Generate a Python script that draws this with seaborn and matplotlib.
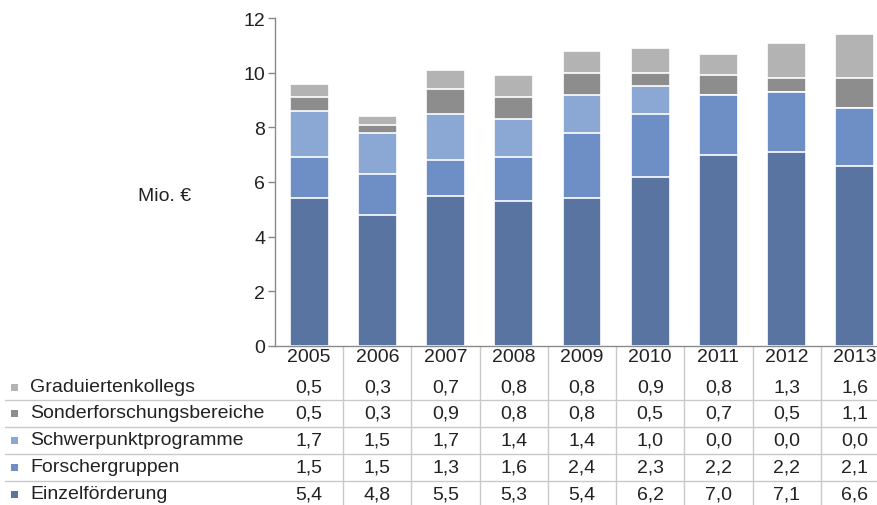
import matplotlib
matplotlib.use("Agg")
import matplotlib.pyplot as plt
import matplotlib.transforms as mtransforms
import seaborn as sns
import pandas as pd
import numpy as np

years = ["2005", "2006", "2007", "2008", "2009", "2010", "2011", "2012", "2013"]
series_names = ["Graduiertenkollegs", "Sonderforschungsbereiche", "Schwerpunktprogramme",
                "Forschergruppen", "Einzelförderung"]
graduierten = [0.5, 0.3, 0.7, 0.8, 0.8, 0.9, 0.8, 1.3, 1.6]
sonderforschung = [0.5, 0.3, 0.9, 0.8, 0.8, 0.5, 0.7, 0.5, 1.1]
schwerpunkt = [1.7, 1.5, 1.7, 1.4, 1.4, 1.0, 0.0, 0.0, 0.0]
forscher = [1.5, 1.5, 1.3, 1.6, 2.4, 2.3, 2.2, 2.2, 2.1]
einzel = [5.4, 4.8, 5.5, 5.3, 5.4, 6.2, 7.0, 7.1, 6.6]
yticks = [0, 2, 4, 6, 8, 10, 12]
ylabel = "Mio. €"

series_values = [graduierten, sonderforschung, schwerpunkt, forscher, einzel]
colors = ["#b3b3b3", "#8d8d8d", "#8ba8d4", "#6d8fc6", "#5a74a1"]

sns.set_style("white")
plt.rcParams["font.family"] = ["Liberation Sans", "DejaVu Sans"]
FS = 14
TXT = "#222222"

W, H = 877, 506
fig = plt.figure(figsize=(W / 100, H / 100), dpi=100)
ax = fig.add_axes([275 / W, 159 / H, 614 / W, 328 / H])

# stacked bars: draw cumulative totals from top layer down
bottom_up = list(zip(series_names, series_values, colors))[::-1]
cum = np.zeros(len(years))
cums = []
for name, vals, col in bottom_up:
    cum = cum + np.array(vals)
    cums.append((name, cum.copy(), col))
for name, cvals, col in cums[::-1]:
    d = pd.DataFrame({"year": years, "value": cvals})
    sns.barplot(data=d, x="year", y="value", order=years, color=col, width=0.57,
                edgecolor="white", linewidth=1.2, saturation=1, ax=ax, errorbar=None)

ax.set_xlim(-0.5, 8.5)
ax.set_ylim(0, 12)
ax.set_yticks(yticks)
ax.set_yticklabels([str(t) for t in yticks], fontsize=FS, color=TXT)
ax.set_xticks(range(len(years)))
ax.set_xticklabels(years, fontsize=FS, color=TXT)
ax.tick_params(axis="x", length=0, pad=1.5)
ax.tick_params(axis="y", length=5, width=1, color="#888888", pad=2, direction="out", left=True)
ax.set_xlabel("")
ax.set_ylabel("")
for s in ["top", "right"]:
    ax.spines[s].set_visible(False)
for s in ["left", "bottom"]:
    ax.spines[s].set_color("#8a8a8a")
    ax.spines[s].set_linewidth(1)

fig.text(165 / W, 1 - 197 / H, ylabel, fontsize=FS, color=TXT, ha="center", va="center")

# data table below the axes
trans = mtransforms.blended_transform_factory(ax.transData, fig.transFigure)
line_col = "#c9c9c9"
row_y = [388, 414, 441, 468, 495]
for xb in np.arange(0.5, len(years) - 0.5 + 1e-9, 1.0):
    ax.plot([xb, xb], [1 - 348 / H, 0], transform=trans, color=line_col, lw=1, clip_on=False)
for ly in [401, 428, 455, 482]:
    fig.add_artist(plt.Line2D([5 / W, 1], [1 - ly / H, 1 - ly / H], color=line_col, lw=1))

for ry, name, vals, col in zip(row_y, series_names, series_values, colors):
    fy = 1 - ry / H
    fig.add_artist(plt.Rectangle((11 / W, fy - 3.5 / H), 7 / W, 7 / H, color=col, lw=0))
    fig.text(30 / W, fy, name, fontsize=FS, color=TXT, ha="left", va="center")
    for i, v in enumerate(vals):
        ax.text(i, fy, f"{v:.1f}".replace(".", ","), transform=trans, fontsize=FS,
                color=TXT, ha="center", va="center", clip_on=False)

fig.savefig("out.png", dpi=100)
